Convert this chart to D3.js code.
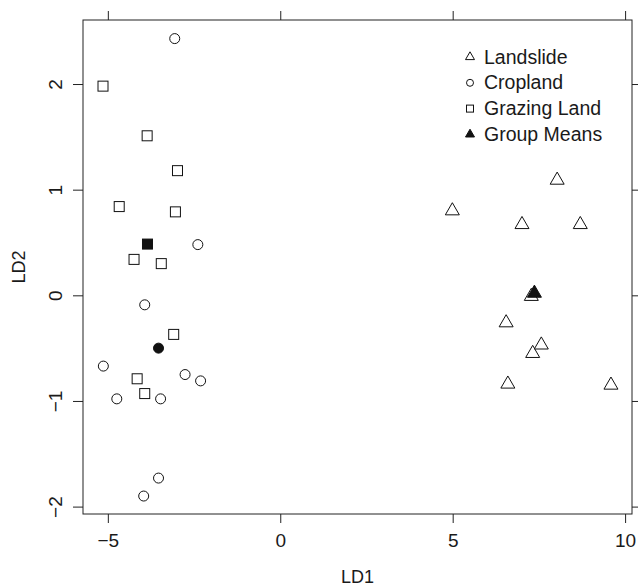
<!DOCTYPE html>
<html>
<head>
<meta charset="utf-8">
<script src="https://cdn.jsdelivr.net/npm/d3@7"></script>
<style>
  body { margin: 0; background: #fff; }
  text { font-family: "Liberation Sans", Arial, Helvetica, sans-serif; fill: #1a1a1a; }
</style>
</head>
<body>
<div id="chart-area"></div>
<script>
// LD scores
var landslideLD1 = [8.03, 4.99, 7.01, 8.70, 7.28, 6.55, 7.57, 7.32, 6.60, 9.59];
var landslideLD2 = [1.09, 0.80, 0.67, 0.67, -0.01, -0.26, -0.47, -0.55, -0.84, -0.85];

var croplandLD1 = [-3.06, -2.39, -3.93, -5.13, -2.76, -2.31, -4.74, -3.47, -3.53, -3.96];
var croplandLD2 = [2.43, 0.48, -0.09, -0.67, -0.75, -0.81, -0.98, -0.98, -1.73, -1.90];

var grazingLD1 = [-5.14, -3.86, -2.98, -4.67, -3.04, -4.24, -3.45, -3.09, -4.15, -3.93];
var grazingLD2 = [1.98, 1.51, 1.18, 0.84, 0.79, 0.34, 0.30, -0.37, -0.79, -0.93];

var meanGroups = ["Landslide", "Cropland", "Grazing Land"];
var meanLD1 = [7.37, -3.53, -3.85];
var meanLD2 = [0.02, -0.50, 0.485];

var legendLabels = ["Landslide", "Cropland", "Grazing Land", "Group Means"];
var xTicks = [-5, 0, 5, 10];
var yTicks = [-2, -1, 0, 1, 2];

var margin = { left: 83, right: 6, top: 20, bottom: 72 };
var width = 638 - margin.left - margin.right,
    height = 586 - margin.top - margin.bottom;

var svg = d3.select("#chart-area")
  .append("svg")
    .attr("width", 638)
    .attr("height", 586);

var g = svg.append("g")
    .attr("transform", "translate(" + margin.left + ", " + margin.top + ")");

var x = d3.scaleLinear().domain([-5.72, 10.2]).range([0, width]);
var y = d3.scaleLinear().domain([-2.07, 2.606]).range([height, 0]);

var fmt = function(d) { return d < 0 ? "\u2212" + Math.abs(d) : String(d); };

// axes on all four sides, ticks outward
var bottomAxis = g.append("g").attr("transform", "translate(0," + height + ")")
  .call(d3.axisBottom(x).tickValues(xTicks).tickSize(9).tickSizeOuter(0).tickFormat(fmt));
var topAxis = g.append("g")
  .call(d3.axisTop(x).tickValues(xTicks).tickSize(9).tickSizeOuter(0).tickFormat(""));
var leftAxis = g.append("g")
  .call(d3.axisLeft(y).tickValues(yTicks).tickSize(10).tickSizeOuter(0).tickFormat(fmt));
var rightAxis = g.append("g").attr("transform", "translate(" + width + ",0)")
  .call(d3.axisRight(y).tickValues(yTicks).tickSize(9).tickSizeOuter(0).tickFormat(""));

[bottomAxis, topAxis, leftAxis, rightAxis].forEach(function(a) {
  a.select(".domain").remove();
  a.selectAll("line").attr("stroke", "#222").attr("stroke-width", 1);
});

bottomAxis.selectAll("text")
  .attr("y", 0).attr("dy", 0)
  .attr("transform", "translate(0,33)")
  .attr("font-size", "19px")
  .style("fill", "#1a1a1a");

leftAxis.selectAll("text")
  .attr("x", 0).attr("dy", 0)
  .attr("text-anchor", "middle")
  .attr("transform", "translate(-21,0) rotate(-90)")
  .attr("font-size", "19px")
  .style("fill", "#1a1a1a");

// box
g.append("rect")
  .attr("width", width).attr("height", height)
  .attr("fill", "none").attr("stroke", "#222").attr("stroke-width", 1);

// axis titles
g.append("text")
  .attr("x", width / 2).attr("y", height + 69)
  .attr("text-anchor", "middle").attr("font-size", "18px")
  .text("LD1");

g.append("text")
  .attr("transform", "rotate(-90)")
  .attr("x", -height / 2).attr("y", -58)
  .attr("text-anchor", "middle").attr("font-size", "18px")
  .text("LD2");

// marker shapes
var triPath = function(s) {
  var h = s * Math.sqrt(3) / 2;
  return "M0," + (-h * 2 / 3) + "L" + (s / 2) + "," + (h / 3) + "L" + (-s / 2) + "," + (h / 3) + "Z";
};

function drawMarker(sel, shape, size, filled) {
  var fill = filled ? "#111" : "none";
  if (shape === "tri") {
    sel.append("path").attr("d", triPath(size)).attr("fill", fill).attr("stroke", "#111").attr("stroke-width", 1);
  } else if (shape === "circ") {
    sel.append("circle").attr("r", size / 2).attr("fill", fill).attr("stroke", "#111").attr("stroke-width", 1);
  } else {
    sel.append("rect").attr("x", -size / 2).attr("y", -size / 2).attr("width", size).attr("height", size)
      .attr("fill", fill).attr("stroke", "#111").attr("stroke-width", 1);
  }
}

function plotGroup(xs, ys, shape, size) {
  xs.forEach(function(v, i) {
    var p = g.append("g").attr("transform", "translate(" + x(v) + "," + y(ys[i]) + ")");
    drawMarker(p, shape, size, false);
  });
}

plotGroup(landslideLD1, landslideLD2, "tri", 14);
plotGroup(croplandLD1, croplandLD2, "circ", 10);
plotGroup(grazingLD1, grazingLD2, "sq", 10);

var meanShapes = { "Landslide": "tri", "Cropland": "circ", "Grazing Land": "sq" };
var meanSizes = { "Landslide": 14, "Cropland": 10, "Grazing Land": 10 };
meanGroups.forEach(function(name, i) {
  var p = g.append("g").attr("transform", "translate(" + x(meanLD1[i]) + "," + y(meanLD2[i]) + ")");
  drawMarker(p, meanShapes[name], meanSizes[name], true);
});

// legend
var legendShapes = ["tri", "circ", "sq", "tri"];
var legend = svg.append("g").attr("transform", "translate(470,57)");
legendLabels.forEach(function(label, i) {
  var row = legend.append("g").attr("transform", "translate(0," + (i * 25.8) + ")");
  drawMarker(row, legendShapes[i], legendShapes[i] === "tri" ? 9 : 7, i === 3);
  row.append("text")
    .attr("x", 14).attr("y", 6.5)
    .attr("font-size", "19.5px")
    .text(label);
});
</script>
</body>
</html>
